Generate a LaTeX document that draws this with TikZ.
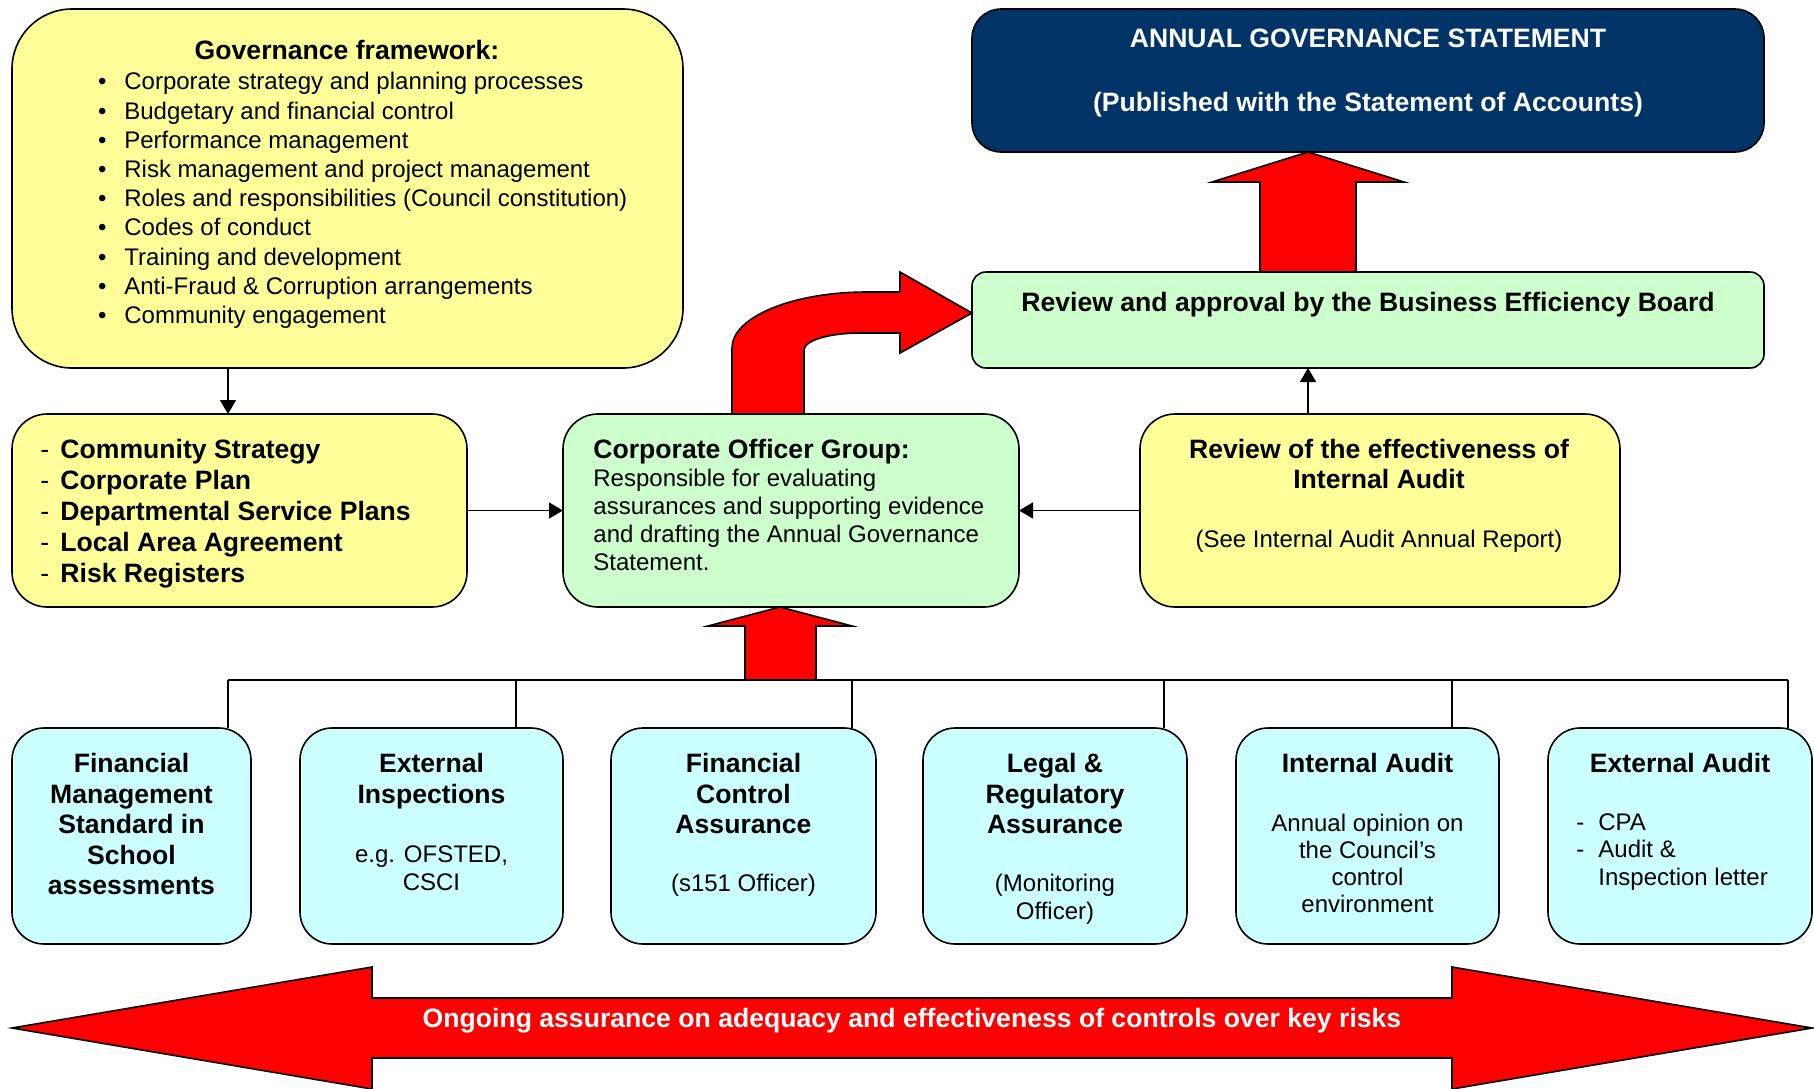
\documentclass[tikz,border=0pt]{standalone}
\usepackage{fontspec}
\setmainfont{Liberation Sans}
\usetikzlibrary{arrows.meta,calc}
\definecolor{yel}{HTML}{FFFF99}
\definecolor{grn}{HTML}{CCFFCC}
\definecolor{cyn}{HTML}{CCFFFF}
\definecolor{navy}{HTML}{003366}
\begin{document}
\begin{tikzpicture}[x=0.5pt,y=-0.5pt,
  box/.style={draw=black, line width=0.8pt, inner sep=0pt, outer sep=0pt},
  tb/.style={font=\fontsize{13.3}{15.5}\selectfont\bfseries, inner sep=0pt},
  tr/.style={font=\fontsize{12}{14}\selectfont, inner sep=0pt},
  arr/.style={line width=0.7pt, -{Triangle[length=7pt,width=8pt]}},
  thin/.style={line width=0.7pt},
  redarrow/.style={fill=red, draw=black, line width=0.8pt, line join=miter}]
\useasboundingbox (0,0) rectangle (1814,1088);

% ---- boxes ----
\node[box, fill=yel, rounded corners=30pt, minimum width=335.5pt, minimum height=179.5pt] (gf) at (347.5,188.5) {};
\node[box, fill=navy, rounded corners=14.5pt, minimum width=396pt, minimum height=71.5pt] (ags) at (1368,80.5) {};
\node[box, fill=grn, rounded corners=7pt, minimum width=396pt, minimum height=48pt] (rab) at (1368,320) {};
\node[box, fill=yel, rounded corners=17.5pt, minimum width=227.5pt, minimum height=96.5pt] (plans) at (239.5,510.5) {};
\node[box, fill=grn, rounded corners=17.5pt, minimum width=228pt, minimum height=96.5pt] (cog) at (791,510.5) {};
\node[box, fill=yel, rounded corners=17.5pt, minimum width=240pt, minimum height=96.5pt] (rie) at (1380,510.5) {};
\node[box, fill=cyn, rounded corners=16pt, minimum width=119.5pt, minimum height=108pt] (b1) at (131.5,836) {};
\node[box, fill=cyn, rounded corners=16pt, minimum width=131.5pt, minimum height=108pt] (b2) at (431.5,836) {};
\node[box, fill=cyn, rounded corners=16pt, minimum width=132.5pt, minimum height=108pt] (b3) at (743.5,836) {};
\node[box, fill=cyn, rounded corners=16pt, minimum width=132pt, minimum height=108pt] (b4) at (1055,836) {};
\node[box, fill=cyn, rounded corners=16pt, minimum width=131.5pt, minimum height=108pt] (b5) at (1367.5,836) {};
\node[box, fill=cyn, rounded corners=16pt, minimum width=132pt, minimum height=108pt] (b6) at (1680,836) {};

% ---- texts ----
\begin{scope}[shift={(0,-1.3)}]
\node[tb, anchor=north] (gft) at (347,41.5) {Governance framework:};
\node[tr, font=\fontsize{12}{14.6}\selectfont, anchor=north west, align=left] (gfl) at (97.6,73.4)
 {\makebox[13.2pt][l]{\textbullet}Corporate strategy and planning processes\\
  \makebox[13.2pt][l]{\textbullet}Budgetary and financial control\\
  \makebox[13.2pt][l]{\textbullet}Performance management\\
  \makebox[13.2pt][l]{\textbullet}Risk management and project management\\
  \makebox[13.2pt][l]{\textbullet}Roles and responsibilities (Council constitution)\\
  \makebox[13.2pt][l]{\textbullet}Codes of conduct\\
  \makebox[13.2pt][l]{\textbullet}Training and development\\
  \makebox[13.2pt][l]{\textbullet}Anti-Fraud \& Corruption arrangements\\
  \makebox[13.2pt][l]{\textbullet}Community engagement};
\node[tb, text=white, anchor=north] (agst1) at (1368,29.5) {ANNUAL GOVERNANCE STATEMENT};
\node[tb, text=white, anchor=north] (agst2) at (1368,93.5) {(Published with the Statement of Accounts)};
\node[tb, anchor=north] (rabt) at (1368,293.5) {Review and approval by the Business Efficiency Board};
\node[tb, anchor=north west, align=left] (planst) at (40,440.5)
 {\makebox[10pt][l]{\mdseries-}Community Strategy\\
  \makebox[10pt][l]{\mdseries-}Corporate Plan\\
  \makebox[10pt][l]{\mdseries-}Departmental Service Plans\\
  \makebox[10pt][l]{\mdseries-}Local Area Agreement\\
  \makebox[10pt][l]{\mdseries-}Risk Registers};
\node[tb, anchor=north west] (cogt) at (593,440.5) {Corporate Officer Group:};
\node[tr, font=\fontsize{12}{13.9}\selectfont, anchor=north west, align=left] (cogb) at (593,470.4)
 {Responsible for evaluating\\assurances and supporting evidence\\and drafting the Annual Governance\\Statement.};
\node[tb, font=\fontsize{13.3}{15}\selectfont\bfseries, anchor=north, align=center] (riet) at (1379,440.5)
 {Review of the effectiveness of\\Internal Audit};
\node[tr, anchor=north] (rieb) at (1379,531.4) {(See Internal Audit Annual Report)};

\tikzset{bt/.style={tb, font=\fontsize{13.3}{15.25}\selectfont\bfseries, anchor=north, align=center}}
\node[bt] (b1t) at (131.5,754.5) {Financial\\Management\\Standard in\\School\\assessments};
\node[bt] (b2t) at (431.5,754.5) {External\\Inspections};
\node[tr, anchor=north, align=center] (b2b) at (431.5,846.4) {e.g. OFSTED,\\CSCI};
\node[bt] (b3t) at (743.5,754.5) {Financial\\Control\\Assurance};
\node[tr, anchor=north] (b3b) at (743.5,875.4) {(s151 Officer)};
\node[bt] (b4t) at (1055,754.5) {Legal \&\\Regulatory\\Assurance};
\node[tr, anchor=north, align=center] (b4b) at (1055,875.4) {(Monitoring\\Officer)};
\node[bt] (b5t) at (1367.5,754.5) {Internal Audit};
\node[tr, font=\fontsize{12}{13.5}\selectfont, anchor=north, align=center] (b5b) at (1367.5,815.4)
 {Annual opinion on\\the Council’s\\control\\environment};
\node[bt] (b6t) at (1680,754.5) {External Audit};
\node[tr, font=\fontsize{12}{13.7}\selectfont, anchor=north west, align=left] (b6b) at (1576,814.4)
 {\makebox[11pt][l]{-}CPA\\\makebox[11pt][l]{-}Audit \&\\\hspace*{11pt}Inspection letter};
\end{scope}

% ---- thin connectors ----
\coordinate (c1) at (228,0);
\coordinate (c2) at (1308,0);
\draw[arr] (gf.south -| c1) -- (plans.north -| c1);
\draw[arr] (plans.east) -- (cog.west);
\draw[arr] (rie.west) -- (cog.east);
\draw[arr] (rie.north -| c2) -- (rab.south -| c2);

% bus
\coordinate (d1) at (228,680);
\coordinate (d2) at (516,680);
\coordinate (d3) at (852,680);
\coordinate (d4) at (1164,680);
\coordinate (d5) at (1452,680);
\coordinate (d6) at (1788,680);
\draw[thin] (d1) -- (d6);
\draw[thin] (d1) -- (b1.north -| d1);
\draw[thin] (d2) -- (b2.north -| d2);
\draw[thin] (d3) -- (b3.north -| d3);
\draw[thin] (d4) -- (b4.north -| d4);
\draw[thin] (d5) -- (b5.north -| d5);
\draw[thin] (d6) -- (b6.north -| d6);

% ---- red block arrows ----
\draw[redarrow] (1260,272) -- (1260,182) -- (1212,182) -- (1308,152) -- (1404,182) -- (1356,182) -- (1356,272) -- cycle;
\draw[redarrow] (745,680) -- (745,626) -- (708,626) -- (780,607) -- (852,626) -- (816,626) -- (816,680) -- cycle;
\draw[redarrow] (732,414) -- (732,348) .. controls (732,317) and (792.5,292) .. (867,292)
  -- (900,292) -- (900,272) -- (972,313) -- (900,353) -- (900,333) -- (860,333)
  .. controls (829,333) and (804,340.6) .. (804,350) -- (804,414) -- cycle;
\draw[redarrow] (12,1028) -- (372,967) -- (372,998) -- (1452,998) -- (1452,967) -- (1812,1028)
  -- (1452,1089) -- (1452,1058) -- (372,1058) -- (372,1089) -- cycle;
\node[tb, text=white] (ongo) at (912,1021) {Ongoing assurance on adequacy and effectiveness of controls over key risks};
\end{tikzpicture}
\end{document}
